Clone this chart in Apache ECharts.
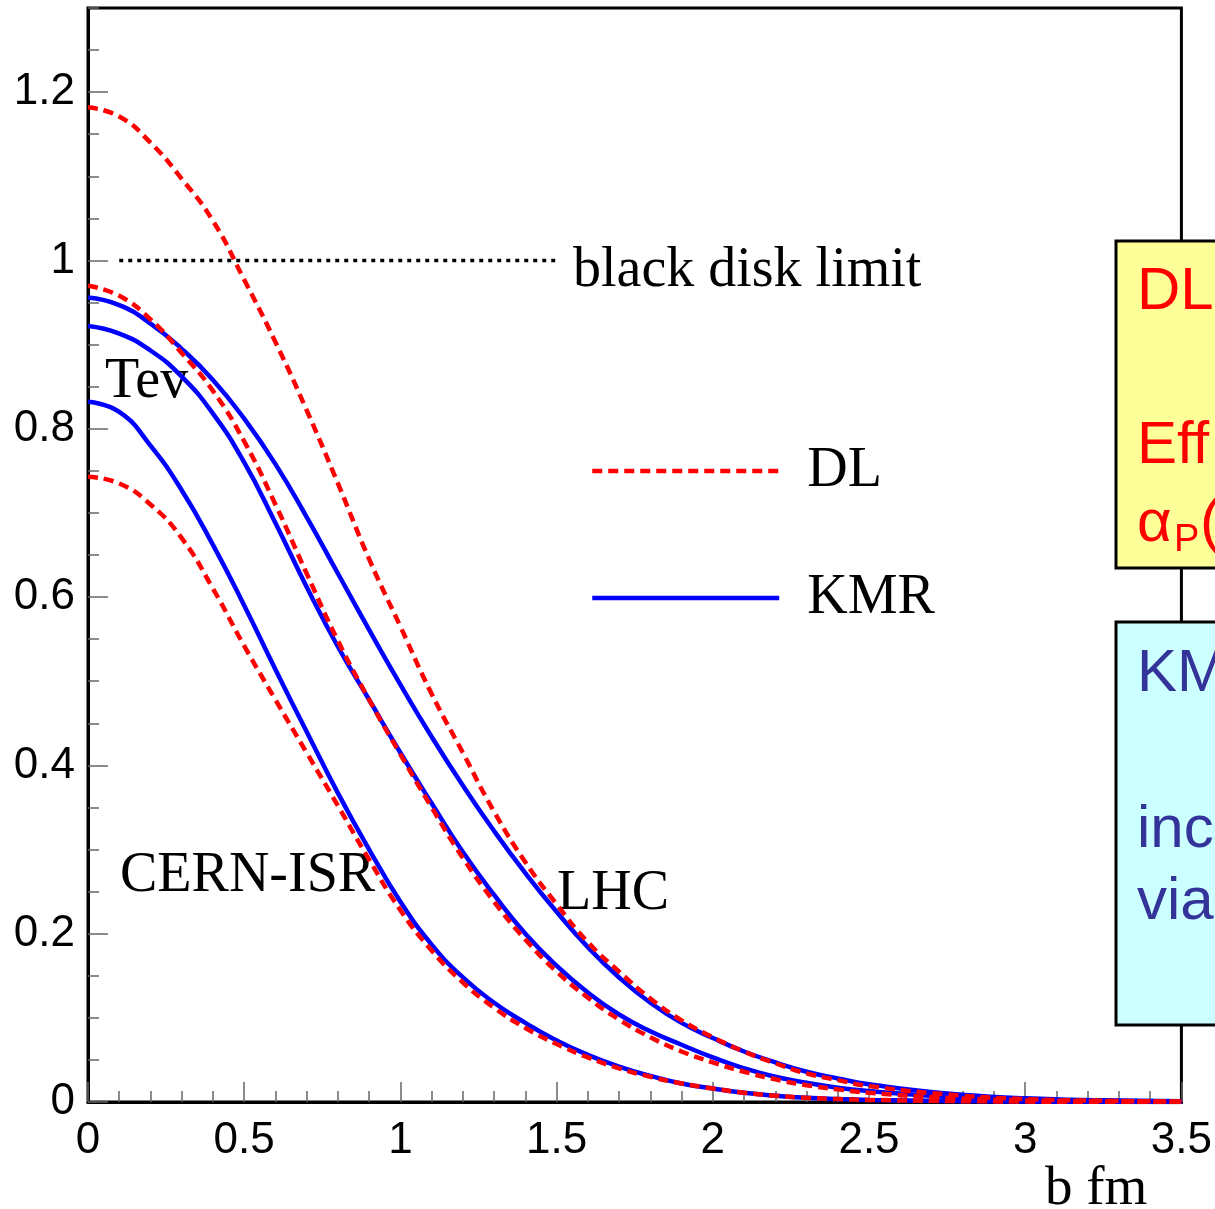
<!DOCTYPE html>
<html lang="en">
<head>
    <meta charset="UTF-8">
    <title>profile</title>
    <script src="https://cdn.jsdelivr.net/npm/echarts@6/dist/echarts.min.js"></script>
    <style>
        html, body { margin: 0; padding: 0; background: #fff; }
        #main { width: 1215px; height: 1209px; }
    </style>
</head>
<body>
<div id="main"></div>
<script type="text/javascript">
    // impact parameter b (fm)
    var bValues = [0, 0.1, 0.2, 0.3, 0.4, 0.5, 0.6, 0.7, 0.8, 0.9, 1.0, 1.1, 1.2, 1.3, 1.4, 1.5, 1.6, 1.7, 1.8, 1.9,
        2.0, 2.1, 2.2, 2.3, 2.4, 2.5, 2.75, 3.0, 3.25, 3.5];

    // DL curves (red dashed)
    var dlLHC = [1.182, 1.171, 1.140, 1.097, 1.047, 0.977, 0.903, 0.822, 0.735, 0.645, 0.565, 0.485, 0.415, 0.345, 0.285,
        0.235, 0.190, 0.155, 0.123, 0.097, 0.077, 0.060, 0.046, 0.034, 0.026, 0.019, 0.009, 0.0035, 0.0015, 0.0006];
    var dlTev = [0.970, 0.958, 0.930, 0.890, 0.845, 0.785, 0.710, 0.628, 0.548, 0.478, 0.413, 0.350, 0.290, 0.238, 0.193,
        0.155, 0.124, 0.098, 0.077, 0.060, 0.047, 0.036, 0.027, 0.020, 0.015, 0.011, 0.005, 0.0022, 0.001, 0.0004];
    var dlISR = [0.743, 0.735, 0.710, 0.670, 0.610, 0.542, 0.478, 0.415, 0.352, 0.288, 0.228, 0.180, 0.142, 0.112, 0.088,
        0.069, 0.053, 0.040, 0.030, 0.022, 0.016, 0.011, 0.0075, 0.005, 0.0035, 0.0025, 0.0012, 0.0005, 0.0002, 0.0001];

    // KMR curves (blue solid)
    var kmrLHC = [0.956, 0.947, 0.925, 0.895, 0.858, 0.812, 0.758, 0.695, 0.628, 0.561, 0.496, 0.434, 0.376, 0.322, 0.272,
        0.226, 0.184, 0.148, 0.118, 0.094, 0.076, 0.060, 0.047, 0.036, 0.028, 0.021, 0.010, 0.0045, 0.002, 0.001];
    var kmrTev = [0.922, 0.913, 0.893, 0.862, 0.818, 0.760, 0.688, 0.612, 0.541, 0.478, 0.415, 0.355, 0.297, 0.246, 0.200,
        0.162, 0.130, 0.104, 0.084, 0.068, 0.053, 0.040, 0.030, 0.023, 0.017, 0.013, 0.006, 0.0028, 0.0012, 0.0005];
    var kmrISR = [0.832, 0.820, 0.780, 0.727, 0.662, 0.590, 0.514, 0.440, 0.367, 0.300, 0.238, 0.187, 0.148, 0.118, 0.094,
        0.073, 0.056, 0.042, 0.031, 0.022, 0.016, 0.011, 0.0075, 0.005, 0.0035, 0.0025, 0.0012, 0.0005, 0.0002, 0.0001];

    // black disk limit segment
    var diskB = [0.1, 1.5];
    var diskLimit = [1, 1];

    var serif = 'Liberation Serif';
    var sans = 'Liberation Sans';
    var dlLine = { color: '#ff0000', width: 4.5, type: [10, 6] };
    var kmrLine = { color: '#0000ff', width: 4.5 };

    function pairs(xs, ys) {
        return xs.map(function (x, i) { return [x, ys[i]]; });
    }

    function curve(name, vals, lineStyle) {
        return {
            name: name, type: 'line', smooth: 0.5,
            symbol: 'none', showSymbol: false, silent: true,
            lineStyle: lineStyle,
            itemStyle: { color: lineStyle.color },
            data: pairs(bValues, vals)
        };
    }

    var tickStyle = { color: '#666', width: 1.5 };

    var myChart = echarts.init(document.getElementById('main'));
    var option = {
        animation: false,
        grid: {
            left: 88, right: 32, top: 8, bottom: 107,
            show: true, borderColor: '#000', borderWidth: 3
        },
        legend: {
            data: [
                { name: 'DL', itemStyle: { opacity: 0 }, lineStyle: dlLine },
                { name: 'KMR', itemStyle: { opacity: 0 }, lineStyle: kmrLine }
            ],
            orient: 'vertical',
            left: 590, top: 441,
            padding: 0,
            itemWidth: 187, itemHeight: 60, itemGap: 67,
            selectedMode: false,
            textStyle: { fontFamily: serif, fontSize: 56, color: '#000', lineHeight: 60, padding: [0, 0, 0, 23] }
        },
        xAxis: {
            type: 'value', min: 0, max: 3.5, interval: 0.5,
            axisLine: { show: true, lineStyle: { color: '#000', width: 3 } },
            axisTick: { show: true, inside: true, length: 20, lineStyle: tickStyle },
            minorTick: { show: true, splitNumber: 5, length: 11, lineStyle: tickStyle },
            splitLine: { show: false },
            axisLabel: { fontFamily: sans, fontSize: 44, color: '#000', margin: 17 }
        },
        yAxis: [{
            type: 'value', min: 0, max: 1.3, interval: 0.2,
            axisLine: { show: true, lineStyle: { color: '#000', width: 3 } },
            axisTick: { show: true, inside: true, length: 20, lineStyle: tickStyle },
            splitLine: { show: false },
            axisLabel: { fontFamily: sans, fontSize: 44, color: '#000', margin: 13, showMaxLabel: false }
        }, {
            type: 'value', min: 0, max: 1.3, interval: 0.05, position: 'left',
            axisLine: { show: false },
            axisTick: { show: true, inside: true, length: 11, lineStyle: tickStyle },
            splitLine: { show: false },
            axisLabel: { show: false }
        }],
        series: [
            curve('KMR', kmrISR, kmrLine), curve('KMR', kmrTev, kmrLine), curve('KMR', kmrLHC, kmrLine),
            curve('DL', dlISR, dlLine), curve('DL', dlTev, dlLine), curve('DL', dlLHC, dlLine),
            {
                name: 'black disk limit', type: 'line', symbol: 'none', silent: true,
                lineStyle: { color: '#000', width: 3.5, type: [4, 5] },
                data: pairs(diskB, diskLimit)
            }
        ],
        graphic: [
            { type: 'text', left: 573, top: 243, style: { text: 'black disk limit', font: '56px ' + serif, fill: '#000' } },
            { type: 'text', left: 105, top: 354, style: { text: 'Tev', font: '56px ' + serif, fill: '#000' } },
            { type: 'text', left: 120, top: 848, style: { text: 'CERN-ISR', font: '56px ' + serif, fill: '#000' } },
            { type: 'text', left: 557, top: 866, style: { text: 'LHC', font: '56px ' + serif, fill: '#000' } },
            { type: 'text', left: 1045, top: 1162, style: { text: 'b fm', font: '55px ' + serif, fill: '#000' } },
            // side boxes, cut by the picture edge
            { type: 'rect', z: 100, shape: { x: 1116, y: 241, width: 160, height: 327 },
                style: { fill: '#ffff99', stroke: '#000', lineWidth: 3 } },
            { type: 'text', z: 101, left: 1137, top: 262, style: { text: 'DL', font: '60px ' + sans, fill: '#ff0000' } },
            { type: 'text', z: 101, left: 1137, top: 416, style: { text: 'Eff', font: '60px ' + sans, fill: '#ff0000' } },
            { type: 'text', z: 101, left: 1137, top: 494, style: { text: 'α', font: '60px ' + sans, fill: '#ff0000' } },
            { type: 'text', z: 101, left: 1174, top: 522, style: { text: 'P', font: '38px ' + sans, fill: '#ff0000' } },
            { type: 'text', z: 101, left: 1200, top: 494, style: { text: '(', font: '60px ' + sans, fill: '#ff0000' } },
            { type: 'rect', z: 100, shape: { x: 1116, y: 622, width: 160, height: 403 },
                style: { fill: '#ccffff', stroke: '#000', lineWidth: 3 } },
            { type: 'text', z: 101, left: 1137, top: 644, style: { text: 'KM', font: '60px ' + sans, fill: '#333399' } },
            { type: 'text', z: 101, left: 1137, top: 800, style: { text: 'inc', font: '60px ' + sans, fill: '#333399' } },
            { type: 'text', z: 101, left: 1137, top: 872, style: { text: 'via', font: '60px ' + sans, fill: '#333399' } }
        ]
    };
    myChart.setOption(option);
</script>
</body>
</html>
